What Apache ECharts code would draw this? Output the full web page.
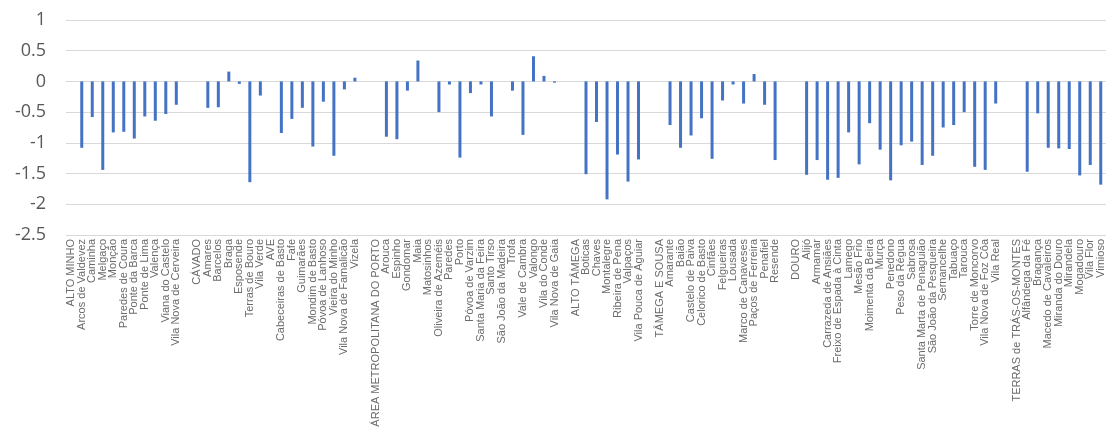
<!DOCTYPE html>
<html>
<head>
<meta charset="utf-8">
<script src="https://cdn.jsdelivr.net/npm/echarts@6/dist/echarts.min.js"></script>
<style>
html,body{margin:0;padding:0;background:#fff;}
#chart{width:1110px;height:432px;}
</style>
</head>
<body>
<div id="chart"></div>
<script>
const categories = [
'ALTO MINHO','Arcos de Valdevez','Caminha','Melgaço','Monção','Paredes de Coura','Ponte da Barca','Ponte de Lima','Valença','Viana do Castelo','Vila Nova de Cerveira',
' ',
'CÁVADO','Amares','Barcelos','Braga','Esposende','Terras de Bouro','Vila Verde',
'AVE','Cabeceiras de Basto','Fafe','Guimarães','Mondim de Basto','Póvoa de Lanhoso','Vieira do Minho','Vila Nova de Famalicão','Vizela',
'  ',
'ÁREA METROPOLITANA DO PORTO','Arouca','Espinho','Gondomar','Maia','Matosinhos','Oliveira de Azeméis','Paredes','Porto','Póvoa de Varzim','Santa Maria da Feira','Santo Tirso','São João da Madeira','Trofa','Vale de Cambra','Valongo','Vila do Conde','Vila Nova de Gaia',
'   ',
'ALTO TÂMEGA','Boticas','Chaves','Montalegre','Ribeira de Pena','Valpaços','Vila Pouca de Aguiar',
'    ',
'TÂMEGA E SOUSA','Amarante','Baião','Castelo de Paiva','Celorico de Basto','Cinfães','Felgueiras','Lousada','Marco de Canaveses','Paços de Ferreira','Penafiel','Resende',
'     ',
'DOURO','Alijó','Armamar','Carrazeda de Ansiães','Freixo de Espada à Cinta','Lamego','Mesão Frio','Moimenta da Beira','Murça','Penedono','Peso da Régua','Sabrosa','Santa Marta de Penaguião','São João da Pesqueira','Sernancelhe','Tabuaço','Tarouca','Torre de Moncorvo','Vila Nova de Foz Côa','Vila Real',
'      ',
'TERRAS de TRÁS-OS-MONTES','Alfândega da Fé','Bragança','Macedo de Cavaleiros','Miranda do Douro','Mirandela','Mogadouro','Vila Flor','Vimioso'
];

const values = [
null,-1.08,-0.58,-1.44,-0.83,-0.82,-0.93,-0.57,-0.64,-0.53,-0.38,
null,
null,-0.43,-0.42,0.16,-0.04,-1.64,-0.23,
null,-0.84,-0.61,-0.43,-1.06,-0.33,-1.21,-0.13,0.06,
null,
null,-0.90,-0.94,-0.15,0.34,0,-0.50,-0.05,-1.24,-0.19,-0.05,-0.57,0,-0.15,-0.87,0.41,0.09,-0.02,
null,
null,-1.51,-0.66,-1.92,-1.19,-1.63,-1.27,
null,
null,-0.71,-1.08,-0.88,-0.60,-1.26,-0.31,-0.05,-0.36,0.12,-0.38,-1.28,
null,
null,-1.52,-1.28,-1.60,-1.57,-0.83,-1.35,-0.68,-1.11,-1.61,-1.04,-0.98,-1.36,-1.21,-0.75,-0.71,-0.50,-1.39,-1.44,-0.36,
null,
null,-1.47,-0.52,-1.08,-1.09,-1.10,-1.53,-1.36,-1.68
];

const yTicks = {min: -2.5, max: 1, interval: 0.5};

const chart = echarts.init(document.getElementById('chart'), null, {renderer: 'canvas'});
chart.setOption({
  animation: false,
  backgroundColor: '#ffffff',
  grid: {left: 66, right: 4, top: 20, bottom: 197, containLabel: false},
  xAxis: {
    type: 'category',
    data: categories,
    position: 'bottom',
    axisLine: {show: false},
    axisTick: {show: false},
    axisLabel: {
      interval: 0,
      rotate: 90,
      margin: 4,
      fontSize: 11,
      fontFamily: 'Liberation Sans, Arial, sans-serif',
      color: '#6b6b6b'
    },
    splitLine: {show: false}
  },
  yAxis: {
    type: 'value',
    min: yTicks.min,
    max: yTicks.max,
    interval: yTicks.interval,
    axisLine: {show: false},
    axisTick: {show: false},
    axisLabel: {
      margin: 20,
      fontSize: 18,
      fontFamily: 'Open Sans, Liberation Sans, sans-serif',
      color: '#595959'
    },
    splitLine: {lineStyle: {color: '#d9d9d9', width: 1}}
  },
  series: [{
    type: 'bar',
    data: values,
    barWidth: 3,
    itemStyle: {color: '#4472C4'}
  }]
});
</script>
</body>
</html>
